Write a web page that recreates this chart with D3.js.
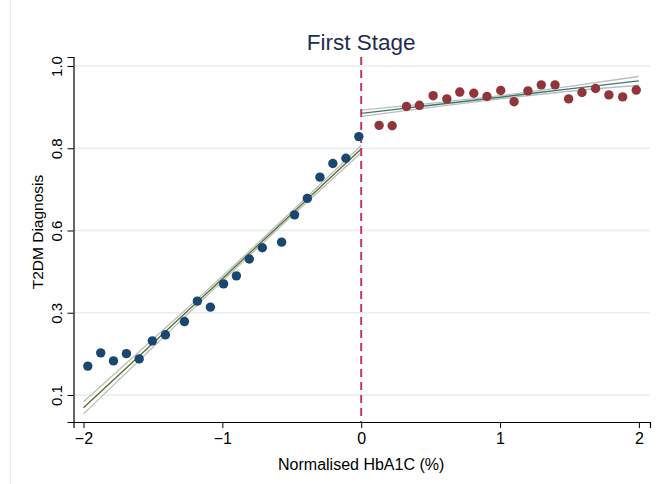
<!DOCTYPE html>
<html>
<head>
<meta charset="utf-8">
<script src="https://cdn.jsdelivr.net/npm/d3@7"></script>
<style>
  body { margin: 0; background: #fff; }
  text { font-family: "Liberation Sans", Arial, sans-serif; }
</style>
</head>
<body>
<svg id="chart" width="656" height="484"></svg>
<script>
// binned means below the cutoff
var leftX = [-1.969, -1.876, -1.784, -1.691, -1.599, -1.504, -1.410, -1.273, -1.180, -1.086,
             -0.991, -0.899, -0.806, -0.712, -0.573, -0.480, -0.388, -0.297, -0.204, -0.110, -0.017]
var leftY = [0.212, 0.245, 0.225, 0.243, 0.230, 0.275, 0.290, 0.323, 0.374, 0.359,
             0.417, 0.437, 0.479, 0.507, 0.521, 0.589, 0.630, 0.683, 0.717, 0.730, 0.784]

// binned means above the cutoff
var rightX = [0.129, 0.223, 0.326, 0.419, 0.518, 0.617, 0.710, 0.811, 0.906, 1.005,
              1.101, 1.201, 1.297, 1.396, 1.494, 1.590, 1.688, 1.784, 1.883, 1.981]
var rightY = [0.812, 0.811, 0.859, 0.862, 0.886, 0.878, 0.895, 0.892, 0.884, 0.899,
              0.871, 0.898, 0.913, 0.913, 0.878, 0.894, 0.904, 0.888, 0.883, 0.900]

// linear fits with confidence bands
var fitLeftX  = [-2, -1.5, -1, -0.5, 0]
var fitLeftY  = [0.108, 0.269, 0.430, 0.592, 0.753]
var fitLeftLo = [0.093, 0.259, 0.424, 0.586, 0.744]
var fitLeftHi = [0.123, 0.279, 0.436, 0.598, 0.762]

var fitRightX  = [0, 0.5, 1, 1.5, 2]
var fitRightY  = [0.842, 0.862, 0.882, 0.903, 0.923]
var fitRightLo = [0.834, 0.857, 0.878, 0.897, 0.912]
var fitRightHi = [0.850, 0.867, 0.886, 0.909, 0.934]

var xTicks = [-2, -1, 0, 1, 2]
var yTicks = [0.14, 0.345, 0.55, 0.755, 0.96]
var yTickLabels = ["0.1", "0.3", "0.6", "0.8", "1.0"]

var svg = d3.select("#chart")

var x = d3.scaleLinear().domain([-2.072, 2.08]).range([73.5, 650])
var y = d3.scaleLinear().domain([0.0727, 0.9824]).range([422, 57])

// faint frame line on the left
svg.append("line")
  .attr("x1", 10.5).attr("x2", 10.5).attr("y1", 0).attr("y2", 484)
  .attr("stroke", "#ececec").attr("stroke-width", 1)

// grid
svg.append("g").selectAll("line")
  .data(yTicks)
  .enter().append("line")
  .attr("x1", x.range()[0]).attr("x2", x.range()[1])
  .attr("y1", function(d){ return y(d) }).attr("y2", function(d){ return y(d) })
  .attr("stroke", "#e5eef0").attr("stroke-width", 1.5)

// axes
var yAxis = svg.append("g")
  .attr("transform", "translate(" + x.range()[0] + ",0)")
  .call(d3.axisLeft(y).tickValues(yTicks).tickSize(6)
        .tickFormat(function(d, i){ return yTickLabels[i] }))
yAxis.select(".domain").attr("stroke", "#000").attr("stroke-width", 1.2)
yAxis.selectAll(".tick line").attr("stroke", "#000")
yAxis.selectAll(".tick text")
  .attr("font-size", 15).attr("fill", "#000")
  .attr("transform", function(){ return "rotate(-90)" })
  .attr("x", 0).attr("y", -12).attr("dy", 0)
  .attr("text-anchor", "middle")

var xAxis = svg.append("g")
  .attr("transform", "translate(0," + y.range()[0] + ")")
  .call(d3.axisBottom(x).tickValues(xTicks).tickSize(6).tickFormat(d3.format("d")))
xAxis.select(".domain").attr("stroke", "#000").attr("stroke-width", 1.2)
xAxis.selectAll(".tick line").attr("stroke", "#000")
xAxis.selectAll(".tick text").attr("font-size", 16).attr("fill", "#000").attr("y", 11)

// axis titles
svg.append("text")
  .attr("x", x(0)).attr("y", 470)
  .attr("text-anchor", "middle").attr("font-size", 16)
  .text("Normalised HbA1C (%)")

svg.append("text")
  .attr("transform", "translate(43,232) rotate(-90)")
  .attr("text-anchor", "middle").attr("font-size", 15.5)
  .text("T2DM Diagnosis")

svg.append("text")
  .attr("x", x(0)).attr("y", 50)
  .attr("text-anchor", "middle").attr("font-size", 22.5)
  .attr("fill", "#1e2d52")
  .text("First Stage")

// fits
var drawFit = function(xs, ys, lo, hi, color){
  var line = d3.line()
    .x(function(d){ return x(d[0]) })
    .y(function(d){ return y(d[1]) })
    .curve(d3.curveMonotoneX)
  var g = svg.append("g")
  g.append("path").attr("d", line(d3.zip(xs, lo)))
    .attr("fill", "none").attr("stroke", "#bdbdbd").attr("stroke-width", 1.3)
  g.append("path").attr("d", line(d3.zip(xs, hi)))
    .attr("fill", "none").attr("stroke", "#bdbdbd").attr("stroke-width", 1.3)
  g.append("path").attr("d", line(d3.zip(xs, ys)))
    .attr("fill", "none").attr("stroke", color).attr("stroke-width", 1.4)
}
drawFit(fitLeftX, fitLeftY, fitLeftLo, fitLeftHi, "#55752f")
drawFit(fitRightX, fitRightY, fitRightLo, fitRightHi, "#3a7a6e")

// cutoff
svg.append("line")
  .attr("x1", x(0)).attr("x2", x(0))
  .attr("y1", y.range()[1]).attr("y2", y.range()[0])
  .attr("stroke", "#c8365f").attr("stroke-width", 2)
  .attr("stroke-dasharray", "8,5")

// points
svg.append("g").selectAll("circle")
  .data(d3.zip(leftX, leftY))
  .enter().append("circle")
  .attr("cx", function(d){ return x(d[0]) })
  .attr("cy", function(d){ return y(d[1]) })
  .attr("r", 4.7)
  .attr("fill", "#1a476f")

svg.append("g").selectAll("circle")
  .data(d3.zip(rightX, rightY))
  .enter().append("circle")
  .attr("cx", function(d){ return x(d[0]) })
  .attr("cy", function(d){ return y(d[1]) })
  .attr("r", 4.7)
  .attr("fill", "#90353b")
</script>
</body>
</html>
